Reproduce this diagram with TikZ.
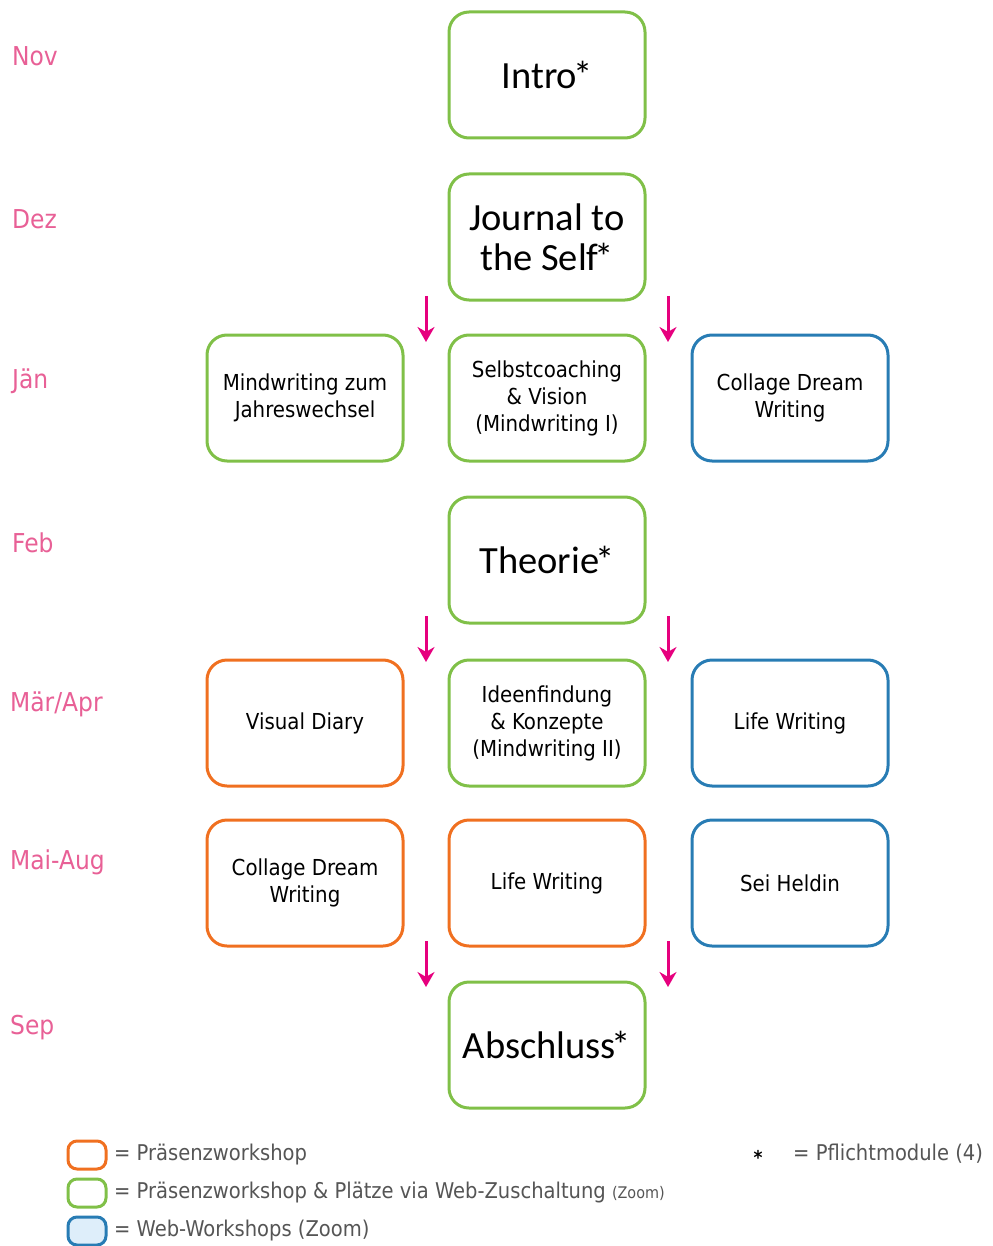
\documentclass[tikz,border=0pt]{standalone}
\usepackage{fontspec}
\setmainfont{DejaVu Sans Condensed}
\newfontfamily\bigf{Carlito}
\usetikzlibrary{arrows.meta}
\definecolor{cgreen}{RGB}{128,192,72}
\definecolor{corange}{RGB}{240,112,32}
\definecolor{cblue}{RGB}{40,124,180}
\definecolor{cpink}{RGB}{232,96,150}
\definecolor{cmag}{RGB}{230,0,126}
\definecolor{cgray}{RGB}{85,85,85}
\definecolor{lblue}{RGB}{222,238,250}
\newcommand{\myast}{\kern-4pt*}
\tikzset{
  box/.style={draw, line width=3pt, rounded corners=20pt, minimum width=196pt, minimum height=126pt, align=center, inner sep=2pt},
  gbox/.style={box, draw=cgreen},
  obox/.style={box, draw=corange},
  bbox/.style={box, draw=cblue},
  smalltxt/.style={font=\fontsize{22}{27}\selectfont},
  bigtxt/.style={font=\bigf\fontsize{38.5}{40}\selectfont},
  month/.style={anchor=west, text=cpink, font=\fontsize{26}{30}\selectfont, inner sep=0pt},
  flow/.style={draw=cmag, line width=3pt, -{Stealth[length=15pt,width=17pt]}},
  lbox/.style={draw, line width=3pt, rounded corners=9pt, minimum width=38pt, minimum height=28pt, inner sep=0pt},
  ltxt/.style={anchor=west, text=cgray, font=\fontsize{21.7}{24}\selectfont, inner sep=0pt},
}
\begin{document}
\begin{tikzpicture}[x=1pt,y=-1pt]
\useasboundingbox (0,0) rectangle (992,1246);
% months
\node[month] (mnov) at (12,56) {Nov};
\node[month] (mdez) at (12,219) {Dez};
\node[month] (mjan) at (12,381) {Jän};
\node[month] (mfeb) at (12,543) {Feb};
\node[month] (mmar) at (10,704) {Mär/Apr};
\node[month] (mmai) at (10,862) {Mai-Aug};
\node[month] (msep) at (10,1028) {Sep};
% boxes
\node[gbox, bigtxt] (intro) at (547,75) {Intro\myast};
\node[gbox, bigtxt] (journal) at (547,237) {Journal to\\the Self\myast};
\node[gbox, smalltxt] (mind) at (305,398) {Mindwriting zum\\Jahreswechsel};
\node[gbox, smalltxt] (selbst) at (547,398) {Selbstcoaching\\\& Vision\\(Mindwriting I)};
\node[bbox, smalltxt] (collage1) at (790,398) {Collage Dream\\Writing};
\node[gbox, bigtxt] (theorie) at (547,560) {Theorie\myast};
\node[obox, smalltxt] (visual) at (305,723) {Visual Diary};
\node[gbox, smalltxt] (ideen) at (547,723) {Ideenfindung\\\& Konzepte\\(Mindwriting II)};
\node[bbox, smalltxt] (life1) at (790,723) {Life Writing};
\node[obox, smalltxt] (collage2) at (305,883) {Collage Dream\\Writing};
\node[obox, smalltxt] (life2) at (547,883) {Life Writing};
\node[bbox, smalltxt] (heldin) at (790,883) {Sei Heldin};
\node[gbox, bigtxt] (abschluss) at (547,1045) {Abschluss\myast};
% arrows
\coordinate (a1s) at (426,296); \coordinate (a1e) at (426,342);
\coordinate (a2s) at (668,296); \coordinate (a2e) at (668,342);
\coordinate (a3s) at (426,616); \coordinate (a3e) at (426,662);
\coordinate (a4s) at (668,616); \coordinate (a4e) at (668,662);
\coordinate (a5s) at (426,941); \coordinate (a5e) at (426,987);
\coordinate (a6s) at (668,941); \coordinate (a6e) at (668,987);
\draw[flow] (a1s) -- (a1e);
\draw[flow] (a2s) -- (a2e);
\draw[flow] (a3s) -- (a3e);
\draw[flow] (a4s) -- (a4e);
\draw[flow] (a5s) -- (a5e);
\draw[flow] (a6s) -- (a6e);
% legend
\node[lbox, draw=corange] (lo) at (87,1155) {};
\node[lbox, draw=cgreen] (lg) at (87,1193) {};
\node[lbox, draw=cblue, fill=lblue] (lb) at (87,1231) {};
\node[ltxt] (to) at (114,1154) {= Präsenzworkshop};
\node[ltxt] (tg) at (114,1192) {= Präsenzworkshop \& Plätze via Web-Zuschaltung {\fontsize{16}{18}\selectfont(Zoom)}};
\node[ltxt] (tb) at (114,1230) {= Web-Workshops (Zoom)};
\node[anchor=center, font=\bfseries\fontsize{19}{20}\selectfont, inner sep=0pt] (star) at (758,1157) {*};
\node[ltxt] (tp) at (793,1154) {= Pflichtmodule (4)};
\end{tikzpicture}
\end{document}
